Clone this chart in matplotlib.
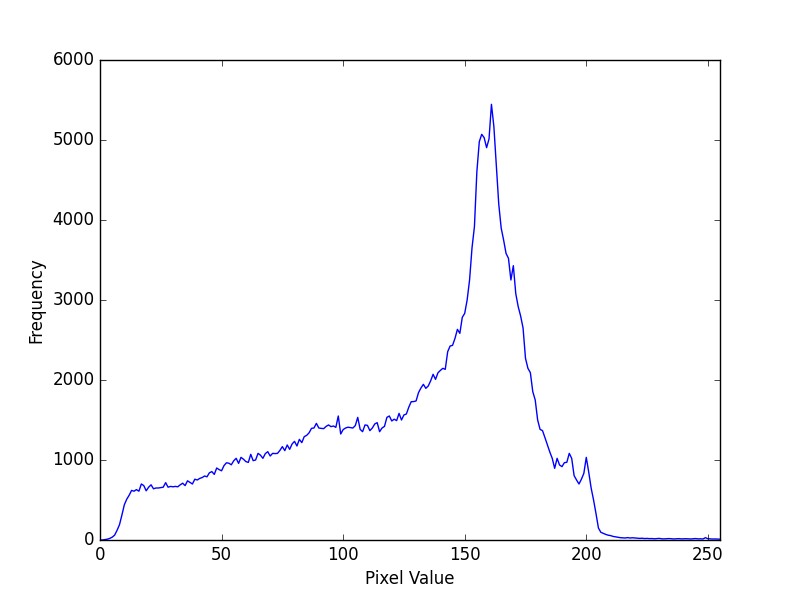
import matplotlib
matplotlib.use('Agg')
import numpy as np
from matplotlib import pyplot as plt

# Histogram counts for pixel values 0..255
hist_0_49 = [0, 0, 5, 10, 20, 35, 60, 120, 190, 310,
             440, 510, 560, 620, 610, 630, 610, 700, 680, 615,
             660, 690, 640, 650, 650, 655, 660, 717, 660, 670,
             665, 670, 665, 690, 710, 680, 740, 720, 700, 760,
             750, 770, 780, 800, 790, 840, 855, 820, 900, 880]
hist_50_99 = [865, 930, 965, 960, 940, 990, 1021, 958, 1033, 1010,
              980, 970, 1071, 992, 1000, 1083, 1060, 1021, 1080, 1104,
              1050, 1083, 1080, 1083, 1120, 1167, 1117, 1188, 1133, 1200,
              1233, 1175, 1258, 1217, 1292, 1308, 1340, 1396, 1400, 1458,
              1400, 1395, 1392, 1420, 1438, 1417, 1425, 1408, 1550, 1325]
hist_100_149 = [1380, 1400, 1410, 1405, 1400, 1430, 1533, 1383, 1354, 1438,
                1433, 1367, 1400, 1450, 1467, 1354, 1400, 1420, 1533, 1550,
                1488, 1510, 1492, 1583, 1500, 1563, 1575, 1660, 1729, 1730,
                1738, 1842, 1900, 1946, 1896, 1925, 1990, 2071, 2008, 2090,
                2120, 2146, 2133, 2354, 2425, 2433, 2520, 2633, 2583, 2783]
hist_150_199 = [2833, 3000, 3250, 3650, 3917, 4604, 4979, 5071, 5029, 4904,
                5013, 5446, 5167, 4688, 4200, 3900, 3750, 3583, 3521, 3250,
                3429, 3080, 2917, 2800, 2650, 2271, 2146, 2092, 1854, 1750,
                1500, 1383, 1367, 1280, 1188, 1100, 1021, 896, 1021, 938,
                917, 967, 971, 1083, 1021, 804, 750, 700, 760, 833]
hist_200_255 = [1033, 850, 650, 500, 330, 150, 96, 83, 70, 60,
                55, 45, 40, 35, 29, 27, 25, 30, 25, 28,
                25, 22, 20, 22, 18, 20, 17, 18, 15, 17,
                20, 15, 14, 16, 18, 15, 13, 15, 17, 14,
                15, 16, 14, 13, 15, 18, 14, 15, 13, 29,
                16, 14, 12, 13, 11, 10]

hist = np.array(hist_0_49 + hist_50_99 + hist_100_149 + hist_150_199 + hist_200_255)

plt.style.use('classic')
fig = plt.figure(figsize=(8, 6), dpi=100, facecolor='white')
plt.plot(hist, color='b')
plt.xlim([0, 255])
plt.ylim([0, 6000])
plt.xlabel('Pixel Value')
plt.ylabel('Frequency')
plt.savefig('out.png', dpi=100, facecolor='white')
